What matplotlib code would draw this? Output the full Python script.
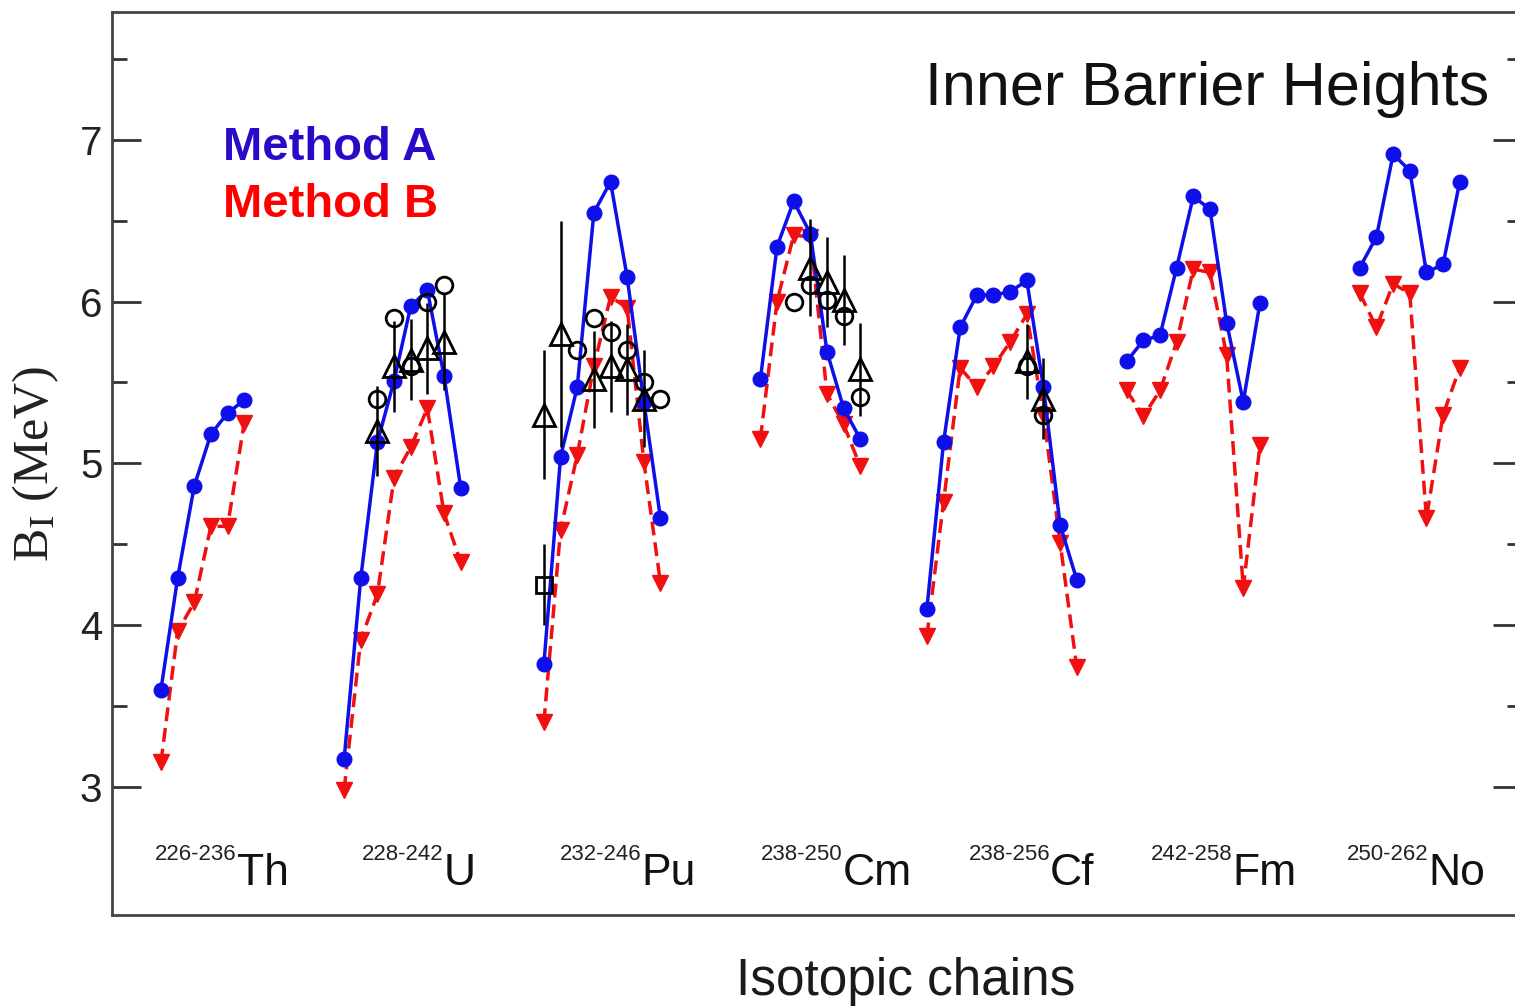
import matplotlib
matplotlib.use("Agg")
import matplotlib.pyplot as plt

# ------------------------------------------------
# Data
# ------------------------------------------------
chains = ["Th", "U", "Pu", "Cm", "Cf", "Fm", "No"]
mass_ranges = ["226-236", "228-242", "232-246", "238-250", "238-256", "242-258", "250-262"]
mass_start = [226, 228, 232, 238, 238, 242, 250]

# inner barrier heights (MeV), one list per chain, step of 2 in mass number
method_a = [
    [3.60, 4.29, 4.86, 5.18, 5.31, 5.39],
    [3.17, 4.29, 5.13, 5.51, 5.97, 6.07, 5.54, 4.85],
    [3.76, 5.04, 5.47, 6.55, 6.74, 6.15, 5.38, 4.66],
    [5.52, 6.34, 6.62, 6.42, 5.69, 5.34, 5.15],
    [4.10, 5.13, 5.84, 6.04, 6.04, 6.06, 6.13, 5.47, 4.62, 4.28],
    [5.63, 5.76, 5.79, 6.21, 6.65, 6.57, 5.87, 5.38, 5.99],
    [6.21, 6.40, 6.91, 6.81, 6.18, 6.23, 6.74],
]
method_b = [
    [3.15, 3.96, 4.14, 4.61, 4.61, 5.25],
    [2.98, 3.91, 4.19, 4.91, 5.10, 5.34, 4.69, 4.39],
    [3.40, 4.59, 5.05, 5.60, 6.03, 5.96, 5.01, 4.26],
    [5.15, 6.00, 6.41, 6.40, 5.43, 5.24, 4.98],
    [3.93, 4.76, 5.59, 5.47, 5.60, 5.75, 5.92, 5.30, 4.51, 3.74],
    [5.45, 5.29, 5.45, 5.75, 6.20, 6.18, 5.67, 4.23, 5.11],
    [6.05, 5.84, 6.11, 6.05, 4.66, 5.30, 5.59],
]

# experimental values: open circles
circ_chain = ["U", "U", "U", "U", "U", "Pu", "Pu", "Pu", "Pu", "Pu", "Pu",
              "Cm", "Cm", "Cm", "Cm", "Cm", "Cf", "Cf"]
circ_mass = [232, 234, 236, 238, 240, 236, 238, 240, 242, 244, 246,
             242, 244, 246, 248, 250, 250, 252]
circ_val = [5.40, 5.90, 5.60, 6.00, 6.10, 5.70, 5.90, 5.81, 5.70, 5.50, 5.40,
            6.00, 6.10, 6.01, 5.91, 5.41, 5.60, 5.30]

# experimental values: open triangles with error bars
tri_chain = ["U", "U", "U", "U", "U", "Pu", "Pu", "Pu", "Pu", "Pu", "Pu",
             "Cm", "Cm", "Cm", "Cm", "Cf", "Cf"]
tri_mass = [232, 234, 236, 238, 240, 232, 234, 238, 240, 242, 244,
            244, 246, 248, 250, 250, 252]
tri_val = [5.20, 5.60, 5.64, 5.71, 5.75, 5.30, 5.80, 5.52, 5.60, 5.58, 5.40,
           6.21, 6.12, 6.01, 5.58, 5.63, 5.40]
tri_err = [0.28, 0.28, 0.25, 0.28, 0.30, 0.40, 0.70, 0.30, 0.28, 0.28, 0.30,
           0.30, 0.28, 0.28, 0.29, 0.23, 0.25]

# experimental value: open square
sq_chain = ["Pu"]
sq_mass = [232]
sq_val = [4.25]
sq_err = [0.25]

# ------------------------------------------------
# Layout
# ------------------------------------------------
chain_offset = [0, 11, 23, 36, 46, 58, 72]
label_x = [4.56, 16.95, 28.85, 40.95, 53.4, 64.35, 76.1]

BLUE = "#0f0fea"
RED = "#f01010"


def xpos(chain, mass):
    i = chains.index(chain)
    return chain_offset[i] + (mass - mass_start[i]) / 2


plt.rcParams["font.family"] = ["Liberation Sans", "DejaVu Sans"]
plt.rcParams["mathtext.fontset"] = "stix"

fig = plt.figure(figsize=(15.15, 10.07), dpi=100)
ax = fig.add_axes([112 / 1515, 92 / 1007, 1410 / 1515, 903 / 1007])

for i in range(len(chains)):
    xs = [xpos(chains[i], mass_start[i] + 2 * k) for k in range(len(method_a[i]))]
    ax.plot(xs, method_b[i], color=RED, lw=2.5, ls=(0, (4, 2)), marker="v",
            ms=11.5, mec=RED, mfc=RED, zorder=2)
    ax.plot(xs, method_a[i], color=BLUE, lw=2.5, marker="o", ms=10.5,
            mec=BLUE, mfc=BLUE, zorder=3)

cx = [xpos(c, m) for c, m in zip(circ_chain, circ_mass)]
ax.plot(cx, circ_val, ls="none", marker="o", ms=12, mfc="none", mec="black",
        mew=2, zorder=4)

tx = [xpos(c, m) for c, m in zip(tri_chain, tri_mass)]
ax.errorbar(tx, tri_val, yerr=tri_err, fmt="^", ms=16, mfc="none", mec="black",
            mew=2, ecolor="black", elinewidth=1.8, capsize=0, zorder=4)

sx = [xpos(c, m) for c, m in zip(sq_chain, sq_mass)]
ax.errorbar(sx, sq_val, yerr=sq_err, fmt="s", ms=12, mfc="none", mec="black",
            mew=2, ecolor="black", elinewidth=1.8, capsize=0, zorder=4)

# chain labels under each group
for i in range(len(chains)):
    ax.text(label_x[i], 2.55, mass_ranges[i], ha="right", va="baseline",
            fontsize=16, color="#222222")
    ax.text(label_x[i], 2.394, chains[i], ha="left", va="baseline",
            fontsize=32, color="#111111")

# ------------------------------------------------
# Axes styling
# ------------------------------------------------
ax.set_xlim(-2.94, 81.74)
ax.set_ylim(2.207, 7.79)
ax.set_xticks([])
ax.set_yticks([3, 4, 5, 6, 7])
ax.set_yticks([3.5, 4.5, 5.5, 6.5, 7.5], minor=True)
ax.tick_params(axis="y", which="both", direction="in", right=True,
               color="#333333", width=2)
ax.tick_params(axis="y", which="major", length=21, labelsize=29, pad=7,
               labelcolor="#222222")
ax.tick_params(axis="y", which="minor", length=11)
for s in ax.spines.values():
    s.set_color("#444444")
    s.set_linewidth(2)

ax.set_ylabel(r"B$_\mathrm{I}$ (MeV)", fontsize=36, family="Liberation Serif",
              color="#222222")
ax.yaxis.set_label_coords(-0.036, 0.5)

fig.text(906 / 1515, 12 / 1007, "Isotopic chains", ha="center", va="baseline",
         fontsize=37, color="#1a1a1a")

ax.text(0.5766, 0.897, "Inner Barrier Heights", transform=ax.transAxes,
        ha="left", va="baseline", fontsize=44, color="#111111")
ax.text(0.0787, 0.836, "Method A", transform=ax.transAxes, ha="left",
        va="baseline", fontsize=34, fontweight="bold", color="#2a0ac8")
ax.text(0.0787, 0.773, "Method B", transform=ax.transAxes, ha="left",
        va="baseline", fontsize=34, fontweight="bold", color="#ff0000")

fig.savefig("out.png", dpi=100)
